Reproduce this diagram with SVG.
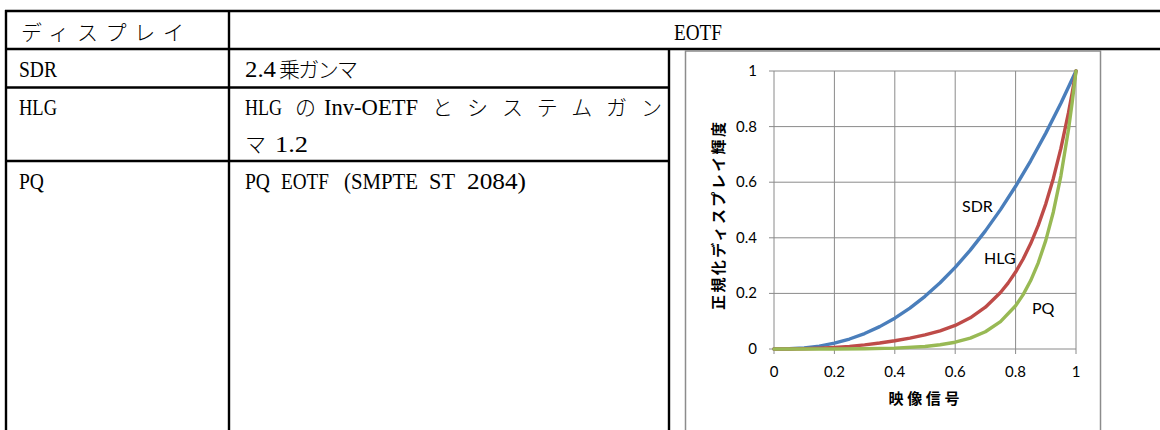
<svg xmlns="http://www.w3.org/2000/svg" width="1160" height="430" viewBox="0 0 1160 430">
<style>
.tl{stroke:#000;stroke-width:2.4;fill:none}
.tt{font-family:"Liberation Serif","Noto Sans CJK JP",serif;font-size:24px;fill:#000}
.jp{font-family:"Noto Sans CJK JP",sans-serif;font-size:21px;font-weight:300}
.grid{stroke:#8a8a8a;stroke-width:1;fill:none}
.tick{font-family:Lato,"Open Sans",sans-serif;font-size:15px;fill:#000}
.ser{font-family:Lato,"Open Sans",sans-serif;font-size:16px;fill:#000}
.ttl{font-family:"Noto Sans CJK JP",sans-serif;font-size:15px;font-weight:bold;fill:#000}
.crv{fill:none;stroke-width:3.4;stroke-linejoin:round;stroke-linecap:round}
</style>
<rect width="1160" height="430" fill="#fff"/>
<g id="table-lines">
<line class="tl" x1="5" y1="11" x2="1160" y2="11"/>
<line class="tl" x1="5" y1="49" x2="1160" y2="49"/>
<line class="tl" x1="5" y1="87.5" x2="669" y2="87.5"/>
<line class="tl" x1="5" y1="161" x2="669" y2="161"/>
<line class="tl" x1="6" y1="10" x2="6" y2="430"/>
<line class="tl" x1="229" y1="10" x2="229" y2="430"/>
<line class="tl" x1="669" y1="49" x2="669" y2="430"/>
</g>
<g id="header-display"><text class="tt jp" x="21" y="39.5" textLength="163" lengthAdjust="spacing">ディスプレイ</text></g>
<g id="header-eotf"><text class="tt" x="674" y="40" textLength="48" lengthAdjust="spacingAndGlyphs">EOTF</text></g>
<g id="row-sdr">
<text class="tt" x="19" y="77" textLength="38" lengthAdjust="spacingAndGlyphs">SDR</text>
<text class="tt" y="77"><tspan x="245" textLength="31" lengthAdjust="spacingAndGlyphs">2.4</tspan><tspan class="jp" x="279" textLength="79" lengthAdjust="spacing">乗ガンマ</tspan></text>
</g>
<g id="row-hlg">
<text class="tt" x="19" y="115" textLength="38" lengthAdjust="spacingAndGlyphs">HLG</text>
<text class="tt" y="115"><tspan x="245" textLength="37" lengthAdjust="spacingAndGlyphs">HLG</tspan><tspan class="jp" x="295">の</tspan><tspan x="324" textLength="94" lengthAdjust="spacingAndGlyphs">Inv-OETF</tspan><tspan class="jp" x="432" textLength="230" lengthAdjust="spacing">とシステムガン</tspan></text>
<text class="tt" y="152"><tspan class="jp" x="245">マ</tspan><tspan x="275" textLength="33" lengthAdjust="spacingAndGlyphs">1.2</tspan></text>
</g>
<g id="row-pq">
<text class="tt" x="19" y="189" textLength="25" lengthAdjust="spacingAndGlyphs">PQ</text>
<text class="tt" y="189"><tspan x="245" textLength="25" lengthAdjust="spacingAndGlyphs">PQ</tspan><tspan x="281" textLength="48" lengthAdjust="spacingAndGlyphs">EOTF</tspan><tspan x="344" textLength="74" lengthAdjust="spacingAndGlyphs">(SMPTE</tspan><tspan x="429" textLength="26" lengthAdjust="spacingAndGlyphs">ST</tspan><tspan x="467" textLength="59" lengthAdjust="spacingAndGlyphs">2084)</tspan></text>
</g>
<g id="chart">
<rect x="685.5" y="51" width="415" height="400" fill="#fff" stroke="#8c8c8c" stroke-width="1.5"/>
<g id="gridlines">
<path class="grid" d="M774 71H1076M774 126.6H1076M774 182.2H1076M774 237.8H1076M774 293.4H1076M774 349H1076"/>
<path class="grid" d="M774 71V349M834.4 71V349M894.8 71V349M955.2 71V349M1015.6 71V349M1076 71V349"/>
<path class="grid" d="M769 71H774M769 126.6H774M769 182.2H774M769 237.8H774M769 293.4H774M769 349H774"/>
<path class="grid" d="M774 349V354M834.4 349V354M894.8 349V354M955.2 349V354M1015.6 349V354M1076 349V354"/>
</g>
<g id="y-ticks" text-anchor="end">
<text class="tick" x="757" y="76">1</text>
<text class="tick" x="757" y="131.6">0.8</text>
<text class="tick" x="757" y="187.2">0.6</text>
<text class="tick" x="757" y="242.8">0.4</text>
<text class="tick" x="757" y="298.4">0.2</text>
<text class="tick" x="757" y="354">0</text>
</g>
<g id="x-ticks" text-anchor="middle">
<text class="tick" x="774" y="377">0</text>
<text class="tick" x="834.4" y="377">0.2</text>
<text class="tick" x="894.8" y="377">0.4</text>
<text class="tick" x="955.2" y="377">0.6</text>
<text class="tick" x="1015.6" y="377">0.8</text>
<text class="tick" x="1076" y="377">1</text>
</g>
<text class="ttl" x="924" y="404" text-anchor="middle" textLength="71" lengthAdjust="spacing">映像信号</text>
<text class="ttl" transform="translate(724 216) rotate(-90)" x="0" y="0" text-anchor="middle" textLength="188" lengthAdjust="spacing">正規化ディスプレイ輝度</text>
<g id="curves">
<polyline id="sdr" class="crv" stroke="#4a7ebb" points="774,349 789.1,348.79 804.2,347.89 819.3,346.07 834.4,343.16 849.5,339.02 864.6,333.54 879.7,326.62 894.8,318.17 909.9,308.09 925,296.33 940.1,282.79 955.2,267.42 970.3,250.13 985.4,230.89 1000.5,209.62 1015.6,186.28 1030.7,160.78 1045.8,133.11 1060.9,103.2 1076,71"/>
<polyline id="hlg" class="crv" stroke="#be4b48" points="774,349 789.1,348.94 804.2,348.7 819.3,348.22 834.4,347.44 849.5,346.33 864.6,344.86 879.7,343.01 894.8,340.75 909.9,338.06 925,334.91 940.1,330.92 955.2,325.41 970.3,317.79 985.4,307.21 1000.5,292.53 1008.05,283.14 1015.6,272.07 1023.15,259.01 1030.7,243.58 1038.25,225.36 1045.8,203.85 1053.35,178.43 1060.9,148.38 1068.45,112.92 1072.2,92.83 1076,71"/>
<polyline id="pq" class="crv" stroke="#98b954" points="774,349 804.2,348.99 834.4,348.93 864.6,348.72 894.8,348.1 925,346.44 940.1,344.8 955.2,342.22 970.3,338.15 985.4,331.74 1000.5,321.66 1015.6,305.76 1023.15,294.62 1030.7,280.57 1038.25,262.83 1045.8,240.39 1053.35,211.95 1060.9,175.82 1068.45,129.82 1072.2,102.23 1076,71"/>
</g>
<g id="series-labels">
<text class="ser" x="962" y="212">SDR</text>
<text class="ser" x="984" y="264">HLG</text>
<text class="ser" x="1032" y="314">PQ</text>
</g>
</g>
</svg>
